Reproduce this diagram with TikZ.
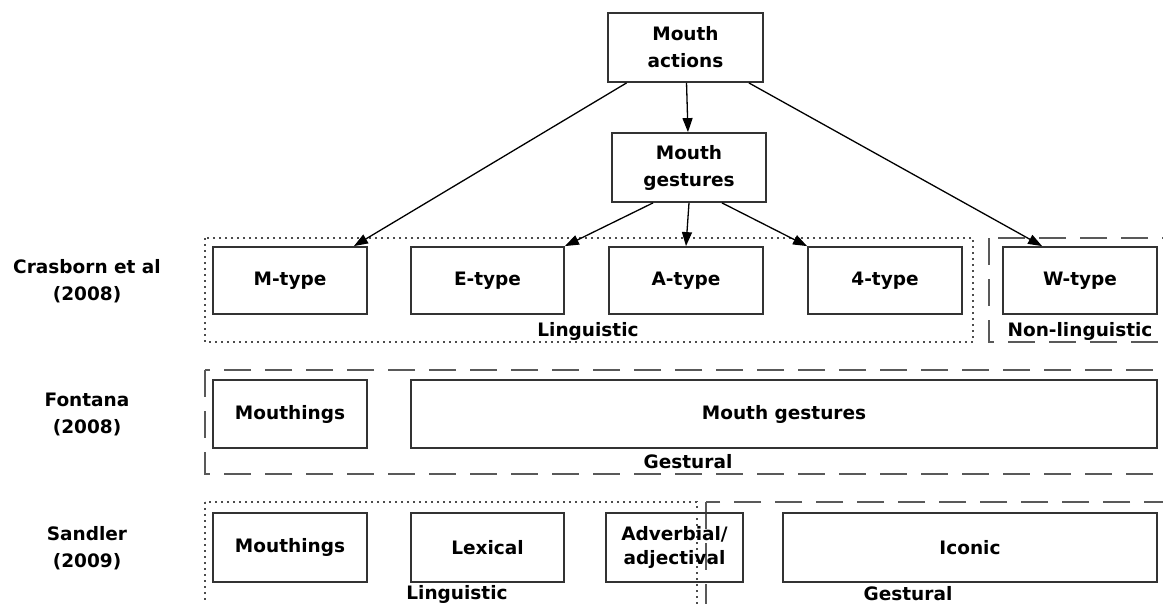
\documentclass[tikz,border=0pt]{standalone}
\usepackage{fontspec}
\setmainfont{DejaVu Sans}
\usetikzlibrary{arrows.meta}
\tikzset{
  box/.style={draw=black!80, line width=1.8pt, align=center, font=\bfseries\fontsize{18.5}{27}\selectfont},
  grouplabel/.style={anchor=base, font=\bfseries\fontsize{18.5}{20}\selectfont},
  rowlabel/.style={align=center, font=\bfseries\fontsize{18.5}{27}\selectfont},
  dotbox/.style={draw=black!70, line width=1.8pt, dash pattern=on 1.8pt off 4.2pt},
  dashbox/.style={draw=black!65, line width=1.8pt, dash pattern=on 27pt off 14pt},
  link/.style={line width=1.3pt, -{Triangle[length=14pt,width=10pt]}}
}
\begin{document}
\begin{tikzpicture}[x=1pt,y=-1pt]
\clip (0,0) rectangle (1163,603);
\fill[white] (0,0) rectangle (1163,603);
% groups
\draw[dotbox] (205,238) rectangle (973,342);
\draw[dashbox] (989,238) rectangle (1190,342);
\draw[dashbox] (205,370) rectangle (1190,474);
\draw[dotbox] (205,502) rectangle (697,640);
\draw[dashbox] (706,502) rectangle (1190,640);
% top
\node[box, minimum width=155pt, minimum height=69pt] (actions) at (685.5,47.5) {Mouth\\actions};
\node[box, minimum width=154pt, minimum height=69pt] (gestures) at (689,167.5) {Mouth\\gestures};
% Crasborn et al
\node[box, minimum width=154pt, minimum height=67pt] (mtype) at (290,280.5) {M-type};
\node[box, minimum width=153pt, minimum height=67pt] (etype) at (487.5,280.5) {E-type};
\node[box, minimum width=154pt, minimum height=67pt] (atype) at (686,280.5) {A-type};
\node[box, minimum width=154pt, minimum height=67pt] (ftype) at (885,280.5) {4-type};
\node[box, minimum width=154pt, minimum height=67pt] (wtype) at (1080,280.5) {W-type};
\node[grouplabel] (ling1) at (588,336) {Linguistic};
\node[grouplabel] (nonling) at (1080,336) {Non-linguistic};
% Fontana
\node[box, minimum width=154pt, minimum height=68pt] (mouthings1) at (290,414) {Mouthings};
\node[box, minimum width=746pt, minimum height=68pt] (mgest) at (784,414) {Mouth gestures};
\node[grouplabel] (gest1) at (688,468) {Gestural};
% Sandler
\node[box, minimum width=154pt, minimum height=69pt] (mouthings2) at (290,547.5) {Mouthings};
\node[box, minimum width=153pt, minimum height=69pt] (lexical) at (487.5,547.5) {Lexical};
\node[box, minimum width=137pt, minimum height=69pt, inner sep=1pt, font=\bfseries\fontsize{18.5}{24}\selectfont] (adverb) at (674.5,547.5) {Adverbial/\\adjectival};
\node[box, minimum width=374pt, minimum height=69pt] (iconic) at (970,547.5) {Iconic};
\node[grouplabel] (ling2) at (457,599) {Linguistic};
\node[grouplabel] (gest2) at (908,600) {Gestural};
% authors
\node[rowlabel] (crasborn) at (87,281) {Crasborn et al\\(2008)};
\node[rowlabel] (fontana) at (87,414) {Fontana\\(2008)};
\node[rowlabel] (sandler) at (87,548) {Sandler\\(2009)};
% arrows
\draw[link] (actions) -- (gestures);
\draw[link] (actions) -- ([xshift=-14pt]mtype.north east);
\draw[link] (actions) -- ([xshift=40pt]wtype.north west);
\draw[link] ([xshift=-36pt]gestures.south) -- (etype.north east);
\draw[link] (gestures.south) -- (atype.north);
\draw[link] ([xshift=33pt]gestures.south) -- (ftype.north west);
\end{tikzpicture}
\end{document}
